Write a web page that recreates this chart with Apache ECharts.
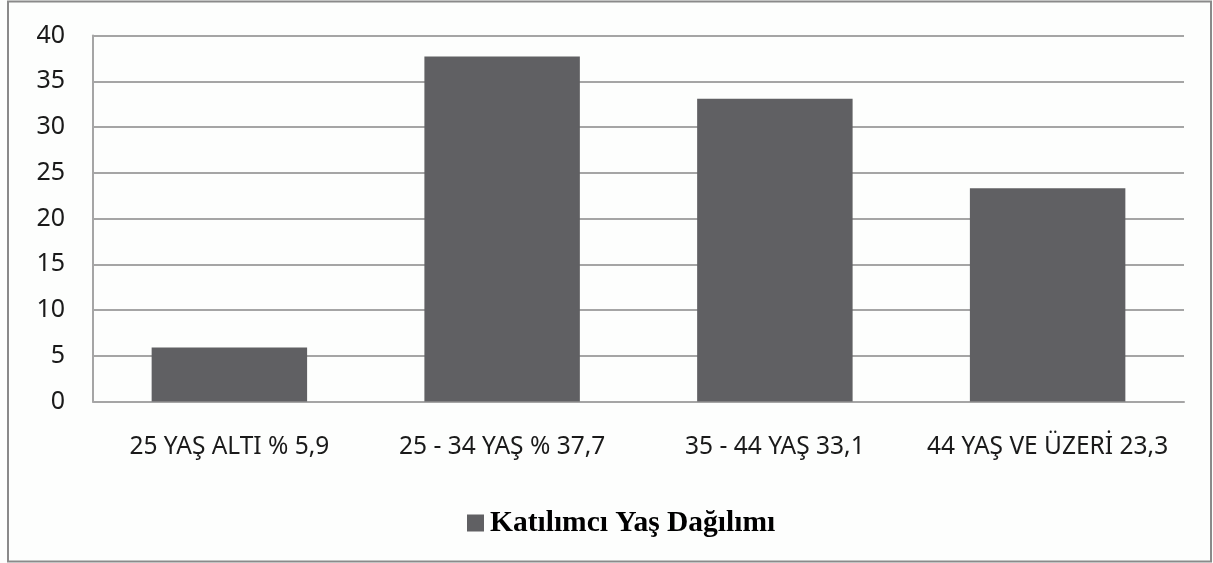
<!DOCTYPE html>
<html>
<head>
<meta charset="utf-8">
<script src="https://cdn.jsdelivr.net/npm/echarts@6/dist/echarts.min.js"></script>
<style>
  html, body { margin: 0; padding: 0; background: #ffffff; }
  #chart { width: 1213px; height: 563px; }
</style>
</head>
<body>
<div id="chart"></div>
<script>
// Age distribution of participants
const categories = ['25 YAŞ ALTI % 5,9', '25 - 34 YAŞ % 37,7', '35 - 44 YAŞ 33,1', '44 YAŞ VE ÜZERİ 23,3'];
const values = [5.9, 37.7, 33.1, 23.3];
const seriesName = 'Katılımcı Yaş Dağılımı';
const yTicks = { min: 0, max: 40, interval: 5 };

const chart = echarts.init(document.getElementById('chart'), null, { renderer: 'canvas' });

chart.setOption({
  backgroundColor: '#fdfefd',
  animation: false,
  graphic: [{
    type: 'rect',
    shape: { x: 8, y: 1.5, width: 1203, height: 560 },
    style: { fill: 'none', stroke: '#8a8a8a', lineWidth: 2 },
    silent: true,
    z: 100
  }],
  grid: { left: 93, top: 35.5, right: 29, bottom: 161.5, containLabel: false },
  legend: {
    data: [seriesName],
    left: 462,
    top: 503,
    icon: 'rect',
    itemWidth: 17,
    itemHeight: 17,
    textStyle: {
      fontFamily: 'Liberation Serif',
      fontWeight: 'bold',
      fontSize: 29.5,
      color: '#000000',
      padding: [0, 0, 0, 1]
    }
  },
  xAxis: {
    type: 'category',
    data: categories,
    axisLine: { show: true, lineStyle: { color: '#a5a5a5', width: 2 } },
    axisTick: { show: false },
    axisLabel: {
      fontFamily: 'Noto Sans',
      fontSize: 24.5,
      color: '#1a1a1a',
      margin: 33,
      interval: 0
    }
  },
  yAxis: {
    type: 'value',
    min: yTicks.min,
    max: yTicks.max,
    interval: yTicks.interval,
    axisLine: { show: true, lineStyle: { color: '#a5a5a5', width: 2 } },
    axisTick: { show: false },
    splitLine: { show: true, lineStyle: { color: '#a5a5a5', width: 2 } },
    axisLabel: {
      fontFamily: 'Noto Sans',
      fontSize: 25,
      color: '#1a1a1a',
      margin: 28
    }
  },
  series: [{
    name: seriesName,
    type: 'bar',
    data: values,
    barWidth: '57%',
    itemStyle: { color: '#606063' }
  }]
});
</script>
</body>
</html>
